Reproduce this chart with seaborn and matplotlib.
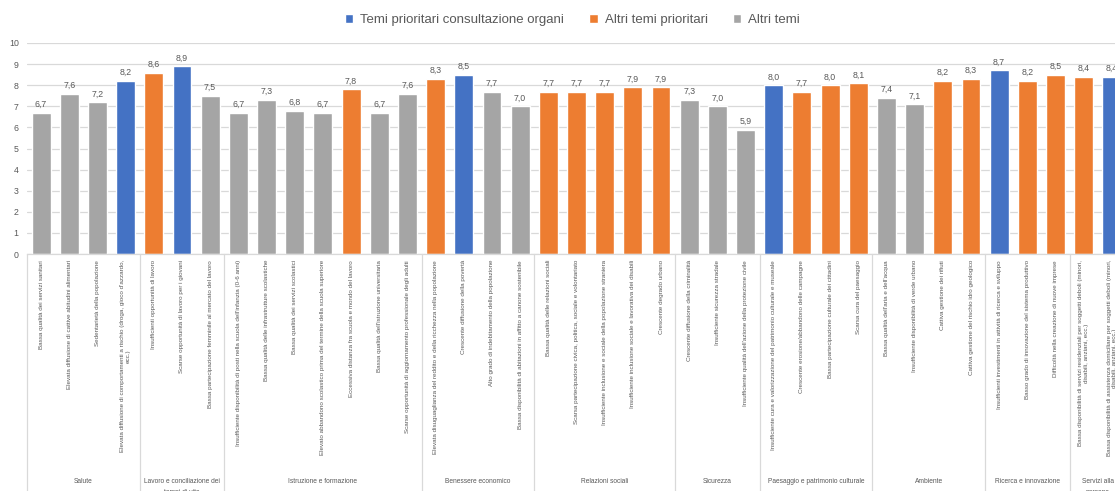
import matplotlib
matplotlib.use("Agg")
import matplotlib.pyplot as plt
import seaborn as sns
import pandas as pd
from matplotlib.lines import Line2D
from matplotlib.transforms import blended_transform_factory

# ---------------- data ----------------
groups = ["Salute", "Lavoro e conciliazione dei\ntempi di vita", "Istruzione e formazione",
          "Benessere economico", "Relazioni sociali", "Sicurezza",
          "Paesaggio e patrimonio culturale", "Ambiente", "Ricerca e innovazione",
          "Servizi alla\npersona"]
group_sizes = [4, 3, 7, 4, 5, 3, 4, 4, 3, 2]

labels = [
    "Bassa qualità dei servizi sanitari",
    "Elevata diffusione di cattive abitudini alimentari",
    "Sedentarietà della popolazione",
    "Elevata diffusione di comportamenti a rischio (droga, gioco d'azzardo,\necc.)",
    "Insufficienti opportunità di lavoro",
    "Scarse opportunità di lavoro per i giovani",
    "Bassa partecipazione femminile al mercato del lavoro",
    "Insufficiente disponibilità di posti nella scuola dell'infanzia (0-6 anni)",
    "Bassa qualità delle infrastrutture scolastiche",
    "Bassa qualità dei servizi scolastici",
    "Elevato abbandono scolastico prima del termine della scuola superiore",
    "Eccessiva distanza fra scuola e mondo del lavoro",
    "Bassa qualità dell'istruzione universitaria",
    "Scarse opportunità di aggiornamento professionale degli adulti",
    "Elevata disuguaglianza del reddito e della ricchezza nella popolazione",
    "Crescente diffusione della povertà",
    "Alto grado di indebitamento della popolazione",
    "Bassa disponibilità di abitazioni in affitto a canone sostenibile",
    "Bassa qualità delle relazioni sociali",
    "Scarsa partecipazione civica, politica, sociale e volontariato",
    "Insufficiente inclusione e sociale della popolazione straniera",
    "Insufficiente inclusione sociale e lavorativa dei disabili",
    "Crescente degrado urbano",
    "Crescente diffusione della criminalità",
    "Insufficiente sicurezza stradale",
    "Insufficiente qualità dell'azione della protezione civile",
    "Insufficiente cura e valorizzazione del patrimonio culturale e museale",
    "Crescente erosione/abbandono delle campagne",
    "Bassa partecipazione culturale dei cittadini",
    "Scarsa cura del paesaggio",
    "Bassa qualità dell'aria e dell'acqua",
    "Insufficiente disponibilità di verde urbano",
    "Cattiva gestione dei rifiuti",
    "Cattiva gestione del rischio idro geologico",
    "Insufficienti investimenti in attività di ricerca e sviluppo",
    "Basso grado di innovazione del sistema produttivo",
    "Difficoltà nella creazione di nuove imprese",
    "Bassa disponibilità di servizi residenziali per soggetti deboli (minori,\ndisabili, anziani, ecc.)",
    "Bassa disponibilità di assistenza domiciliare per soggetti deboli (minori,\ndisabili, anziani, ecc.)",
]

values = [6.7, 7.6, 7.2, 8.2,
          8.6, 8.9, 7.5,
          6.7, 7.3, 6.8, 6.7, 7.8, 6.7, 7.6,
          8.3, 8.5, 7.7, 7.0,
          7.7, 7.7, 7.7, 7.9, 7.9,
          7.3, 7.0, 5.9,
          8.0, 7.7, 8.0, 8.1,
          7.4, 7.1, 8.2, 8.3,
          8.7, 8.2, 8.5,
          8.4, 8.4]

B = "Temi prioritari consultazione organi"
O = "Altri temi prioritari"
G = "Altri temi"
types = [G, G, G, B,
         O, B, G,
         G, G, G, G, O, G, G,
         O, B, G, G,
         O, O, O, O, O,
         G, G, G,
         B, O, O, O,
         G, G, O, O,
         B, O, O,
         O, B]

legend_order = [B, O, G]
palette = {B: "#4472C4", O: "#ED7D31", G: "#A5A5A5"}

# ---------------- plot ----------------
sns.set_style("white")
plt.rcParams["font.family"] = ["Liberation Sans", "DejaVu Sans"]

TXT = "#595959"
GRID = "#D9D9D9"

W, H = 1115, 491
fig = plt.figure(figsize=(W / 100, H / 100), dpi=100)
ax = fig.add_axes([27 / W, (H - 254) / H, (W - 27) / W, 211 / H])

df = pd.DataFrame({"label": labels, "value": values, "tipo": types})
sns.barplot(data=df, x="label", y="value", hue="tipo", hue_order=legend_order,
            order=labels, palette=palette, dodge=False, width=0.67,
            saturation=1, ax=ax)

for cont in ax.containers:
    ax.bar_label(cont, fmt=lambda v: f"{v:.1f}".replace(".", ","),
                 padding=2.7, fontsize=6.3, color=TXT)

ax.set_ylim(0, 10)
ax.set_yticks(range(11))
ax.set_xlim(-0.5, 38.11)
ax.set_xlabel("")
ax.set_ylabel("")
ax.yaxis.grid(True, color=GRID, lw=0.9)
ax.set_axisbelow(True)
for s in ["top", "right", "left"]:
    ax.spines[s].set_visible(False)
ax.spines["bottom"].set_color(GRID)
ax.spines["bottom"].set_linewidth(0.9)

ax.tick_params(axis="x", length=0, pad=4.3, labelsize=4.5, labelcolor=TXT, labelrotation=90)
ax.tick_params(axis="y", length=0, pad=6, labelsize=6.3, labelcolor=TXT)

# group separators and labels
tr_line = blended_transform_factory(ax.transData, ax.transAxes)
tr_text = blended_transform_factory(ax.transData, fig.transFigure)
start = 0
bottom_ax = -(H - 254) / 211
bounds = [-0.5]
for g, n in zip(groups, group_sizes):
    center = start + (n - 1) / 2
    for i, line in enumerate(g.split("\n")):
        ax.text(center, 1 - (483 + 11 * i) / H, line, transform=tr_text,
                ha="center", va="baseline", fontsize=4.8, color=TXT, clip_on=False)
    start += n
    bounds.append(start - 0.5)
for b in bounds:
    ax.add_line(Line2D([b, b], [0, bottom_ax], transform=tr_line, color=GRID,
                       lw=0.9, clip_on=False))

# legend
handles, leg_labels = ax.get_legend_handles_labels()
if ax.legend_ is not None:
    ax.legend_.remove()
fig.legend(handles, leg_labels, loc="center", bbox_to_anchor=(572.5 / W, 1 - 20 / H),
           ncol=3, frameon=False, fontsize=9.5, labelcolor=TXT,
           handlelength=0.63, handleheight=0.63, handletextpad=0.55,
           columnspacing=1.9)

fig.savefig("out.png", dpi=100)
